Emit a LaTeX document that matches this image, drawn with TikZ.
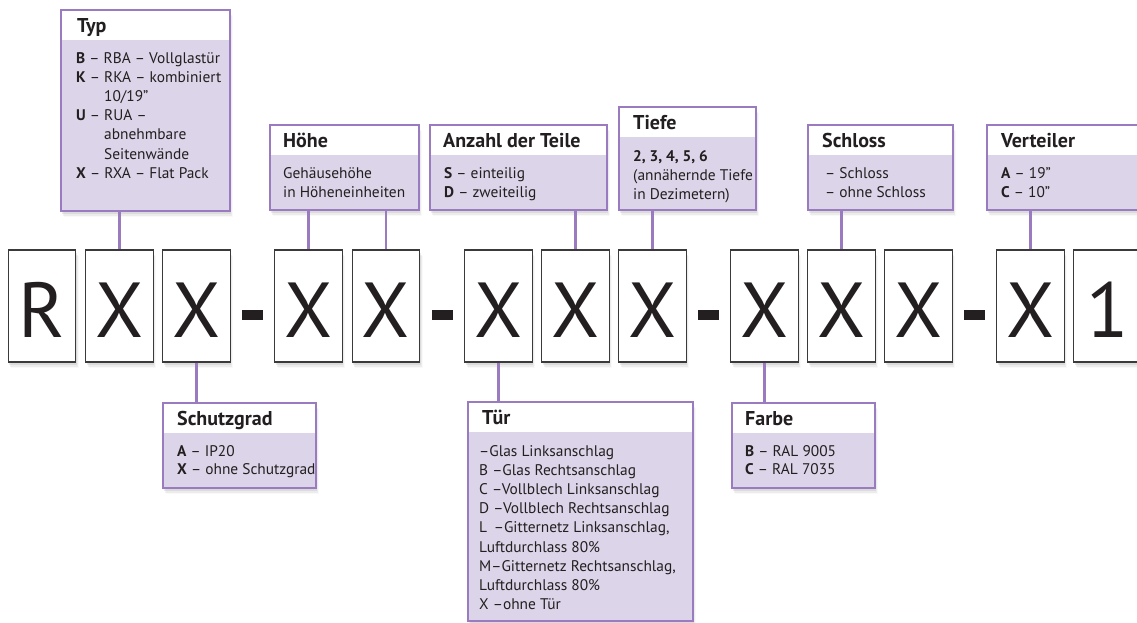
\documentclass[tikz,border=0pt]{standalone}
\usepackage{fontspec}
\setmainfont{PT Sans}
\usetikzlibrary{shadows}
\definecolor{lilaborder}{HTML}{9A7BC0}
\definecolor{lilafill}{HTML}{DCD4E8}
\definecolor{boxgray}{HTML}{3A3A3A}
\definecolor{inkblack}{HTML}{231F20}
\begin{document}
\begin{tikzpicture}[x=1pt,y=-1pt,
  softshadow/.style={drop shadow={shadow xshift=1pt, shadow yshift=-2.5pt, opacity=0.16},
                     drop shadow={shadow xshift=2pt, shadow yshift=-4.5pt, opacity=0.10},
                     drop shadow={shadow xshift=3pt, shadow yshift=-6pt, opacity=0.05}},
  letterbox/.style={draw=boxgray, line width=1.2pt, fill=white, minimum width=67.5pt,
    minimum height=112pt, inner sep=0pt, font=\fontsize{78}{80}\selectfont,
    text height=62pt, text depth=0pt, text=inkblack, softshadow},
  dashbar/.style={fill=inkblack, minimum width=21pt, minimum height=10pt, inner sep=0pt},
  infobox/.style={draw=lilaborder, line width=2.6pt, fill=lilafill, inner sep=0pt, softshadow,
    path picture={\fill[white] (path picture bounding box.north west) rectangle
      ([yshift=-30pt]path picture bounding box.north east);}},
  hdr/.style={anchor=base west, inner sep=0pt, text=inkblack, font=\fontsize{20}{22}\selectfont\bfseries},
  body/.style={anchor=base west, inner sep=0pt, align=left, text=inkblack, font=\fontsize{15.4}{19.2}\selectfont},
  bodyt/.style={body, font=\fontsize{15.4}{18}\selectfont},
  conn/.style={draw=lilaborder, line width=2.4pt}
]
\useasboundingbox (0,0) rectangle (1137,622);

% info boxes
\node[infobox, minimum width=169pt, minimum height=201pt] (typ) at (145.5,110.5) {};
\node[infobox, minimum width=149pt, minimum height=85pt] (hoehe) at (344.5,167.5) {};
\node[infobox, minimum width=177pt, minimum height=85pt] (anzahl) at (518.5,167.5) {};
\node[infobox, minimum width=137pt, minimum height=103pt] (tiefe) at (687.5,158.5) {};
\node[infobox, minimum width=145pt, minimum height=85pt] (schloss) at (880.5,167.5) {};
\node[infobox, minimum width=163pt, minimum height=85pt] (verteiler) at (1068.5,167.5) {};
\node[infobox, minimum width=153pt, minimum height=85pt] (schutz) at (239.5,445.5) {};
\node[infobox, minimum width=225pt, minimum height=219pt] (tuer) at (580.5,511.5) {};
\node[infobox, minimum width=143pt, minimum height=85pt] (farbe) at (803.5,445.5) {};

% headers
\node[hdr] (typh) at (77,32) {Typ};
\node[hdr] (hoeheh) at (283,147) {Höhe};
\node[hdr] (anzahlh) at (443,147) {Anzahl der Teile};
\node[hdr] (tiefeh) at (633,129) {Tiefe};
\node[hdr] (schlossh) at (822,147) {Schloss};
\node[hdr] (verteilerh) at (1001,147) {Verteiler};
\node[hdr] (schutzh) at (177,425) {Schutzgrad};
\node[hdr] (tuerh) at (482,424) {Tür};
\node[hdr] (farbeh) at (745,425) {Farbe};

% bodies (anchor = baseline of the last line)
\node[body] (typb) at (76,178.2) {\textbf{B} – RBA – Vollglastür\\
  \textbf{K} – RKA – kombiniert\\
  \hphantom{\textbf{K} – }10/19”\\
  \textbf{U} – RUA –\\
  \hphantom{\textbf{U} – }abnehmbare\\
  \hphantom{\textbf{U} – }Seitenwände\\
  \textbf{X} – RXA – Flat Pack};
\node[body] (hoeheb) at (283,197.5) {Gehäusehöhe\\in Höheneinheiten};
\node[body] (anzahlb) at (444,197.5) {\textbf{S} – einteilig\\\textbf{D} – zweiteilig};
\node[body] (tiefeb) at (633,199.4) {\textbf{2, 3, 4, 5, 6}\\(annähernde Tiefe\\in Dezimetern)};
\node[body] (schlossb) at (825,197.5) {– Schloss\\– ohne Schloss};
\node[body] (verteilerb) at (1001,197.5) {\textbf{A} – 19”\\\textbf{C} – 10”};
\node[bodyt] (schutzb) at (177,474) {\textbf{A} – IP20\\\textbf{X} – ohne Schutzgrad};
\node[body] (tuerb) at (479,609.6) {–Glas Linksanschlag\\
  B –Glas Rechtsanschlag\\
  C –Vollblech Linksanschlag\\
  D –Vollblech Rechtsanschlag\\
  L \,–Gitternetz Linksanschlag,\\
  Luftdurchlass 80\%\\
  M–Gitternetz Rechtsanschlag,\\
  Luftdurchlass 80\%\\
  X –ohne Tür};
\node[bodyt] (farbeb) at (745,474) {\textbf{B} – RAL 9005\\\textbf{C} – RAL 7035};

% letter boxes
\node[letterbox] (l1) at (42,306) {R};
\node[letterbox] (l2) at (119.5,306) {X};
\node[letterbox] (l3) at (196.5,306) {X};
\node[dashbar] (d1) at (252.5,315) {};
\node[letterbox] (l4) at (308.5,306) {X};
\node[letterbox] (l5) at (386,306) {X};
\node[dashbar] (d2) at (442.5,315) {};
\node[letterbox] (l6) at (498.5,306) {X};
\node[letterbox] (l7) at (575.5,306) {X};
\node[letterbox] (l8) at (652.5,306) {X};
\node[dashbar] (d3) at (708.5,315) {};
\node[letterbox] (l9) at (764.5,306) {X};
\node[letterbox] (l10) at (841.5,306) {X};
\node[letterbox] (l11) at (918.5,306) {X};
\node[dashbar] (d4) at (974.5,315) {};
\node[letterbox] (l12) at (1030.5,306) {X};
\node[letterbox] (l13) at (1107.5,306) {1};

% connectors
\draw[conn] (l2.north |- typ.south) -- (l2.north);
\draw[conn] (l4.north |- hoehe.south) -- (l4.north);
\draw[conn] (l5.north |- hoehe.south) -- (l5.north);
\draw[conn] (l7.north |- anzahl.south) -- (l7.north);
\draw[conn] (l8.north |- tiefe.south) -- (l8.north);
\draw[conn] (l10.north |- schloss.south) -- (l10.north);
\draw[conn] (l12.north |- verteiler.south) -- (l12.north);
\draw[conn] (l3.south) -- (l3.south |- schutz.north);
\draw[conn] (l6.south) -- (l6.south |- tuer.north);
\draw[conn] (l9.south) -- (l9.south |- farbe.north);
\end{tikzpicture}
\end{document}
